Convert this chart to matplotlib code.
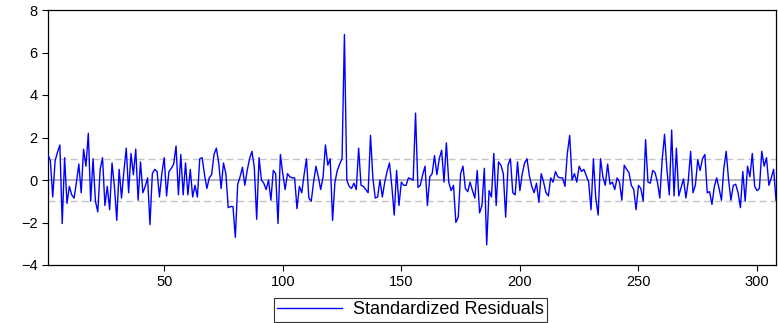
import numpy as np
import matplotlib
matplotlib.use("Agg")
import matplotlib.pyplot as plt

plt.rcParams['font.family'] = ['Liberation Sans', 'DejaVu Sans']

# standardized residuals, obs 1..308
std_resid = [
    1.2, 0.9, -0.8, 0.9, 1.3, 1.65, -2.05, 1.05, -1.1, -0.3,
    -0.7, -0.85, -0.1, 0.75, -0.6, 1.45, 0.65, 2.2, -1.0, 1.0,
    -1.0, -1.5, 0.5, 1.05, -1.2, -0.3, -1.4, 0.8, -0.3, -1.9,
    0.5, -0.85, 0.4, 1.5, -0.6, 1.25, 0.25, 1.45, -0.95, 0.85,
    -0.6, -0.3, 0.1, -2.1, 0.3, 0.5, 0.4, -0.8, 0.3, 1.05,
    -0.75, 0.4, 0.55, 0.75, 1.6, -0.7, 1.2, -0.7, 0.8, -0.7,
    0.5, -0.8, -0.25, -0.8, 1.0, 1.05, 0.25, -0.4, 0.1, 0.25,
    1.2, 1.5, 0.8, -0.4, 0.8, 0.3, -1.3, -1.25, -1.25, -2.7,
    -0.2, 0.15, 0.6, -0.25, 0.45, 1.0, 1.35, 0.6, -1.85, 1.05,
    0.0, -0.15, -0.45, 0.0, -0.95, 0.45, 0.3, -2.05, 1.2, 0.3,
    -0.45, 0.3, 0.15, 0.1, 0.1, -1.35, -0.3, -0.6, 0.25, 1.0,
    -0.85, -1.0, -0.1, 0.65, 0.15, -0.45, 0.15, 1.65, 0.7, 1.0,
    -1.9, -0.1, 0.45, 0.75, 1.0, 6.85, 0.0, -0.3, -0.4, -0.15,
    -0.45, 1.5, -0.25, -0.3, -0.45, -0.6, 2.1, 0.1, -0.85, -0.8,
    0.0, -0.8, -0.1, 0.4, 0.8, -0.3, -1.65, 0.45, -1.2, -0.1,
    -0.25, -0.25, 0.1, 0.05, 0.0, 3.15, -0.35, -0.25, 0.25, 0.65,
    -1.2, 0.15, 0.3, 1.15, 0.25, 1.0, 1.4, -0.1, 1.75, -0.1,
    -0.5, -0.25, -2.0, -1.75, 0.3, 0.65, -0.4, -0.55, -0.1, -0.5,
    -0.85, 0.45, -1.55, -1.2, 0.55, -3.05, -0.5, -0.8, 1.25, -1.2,
    0.85, 0.7, 0.3, -1.75, 0.7, 1.0, -0.6, -0.7, 0.85, -0.5,
    0.3, 0.8, 1.0, 0.2, -0.3, -0.6, -0.15, -1.05, 0.3, -0.1,
    -0.6, -0.75, 0.1, -0.1, 0.4, 0.15, 0.1, 0.1, -0.3, 1.25,
    2.1, 0.0, 0.3, -0.1, 0.65, 0.4, 0.5, 0.2, -0.1, -1.4,
    1.0, -0.85, -1.65, 1.0, 0.15, -0.25, 0.75, -0.2, -0.1, -0.45,
    0.1, -0.1, -0.95, 0.7, 0.5, 0.35, -0.25, -0.45, -1.4, -0.25,
    -0.4, -1.0, 1.9, -0.1, -0.15, 0.45, 0.35, -0.1, -0.85, 0.95,
    2.15, 0.5, -0.7, 2.35, -0.75, 1.5, -0.75, -0.35, 0.05, -0.85,
    -0.05, 1.35, -0.6, -0.25, 0.95, 0.45, 1.0, 1.2, -0.6, -0.55,
    -1.15, -0.3, 0.1, -0.4, -0.95, 0.55, 1.35, 0.0, -0.95, -0.25,
    -0.2, -0.6, -1.3, 0.4, -1.0, 0.65, 0.15, 1.25, -0.3, -0.5,
    -0.4, 1.35, 0.65, 1.05, -0.25, 0.1, 0.5, -0.95,
]
x_ticks = [50, 100, 150, 200, 250, 300]
y_ticks = [-4, -2, 0, 2, 4, 6, 8]
band = [-1, 1]

obs = np.arange(1, len(std_resid) + 1)

fig = plt.figure(figsize=(7.78, 3.23), dpi=100)
ax = fig.add_axes([48 / 778, 58 / 323, 728 / 778, 255 / 323])

# reference lines
ax.axhline(0, color='#a8a8a8', lw=1.2, zorder=1)
for b in band:
    ax.axhline(b, color='#c4c4c4', lw=1.0, ls=(0, (5, 3)), zorder=1)

ax.plot(obs, std_resid, color='#0000ff', lw=1.0, label='Standardized Residuals', zorder=3)

ax.set_xlim(1, len(std_resid))
ax.set_ylim(-4, 8)
ax.set_xticks(x_ticks)
ax.set_yticks(y_ticks)
ax.tick_params(direction='out', length=4, width=0.8, labelsize=10.5, colors='black')
for s in ax.spines.values():
    s.set_linewidth(0.9)

leg = fig.legend(loc='center', bbox_to_anchor=(410.5 / 778, 1 - 310 / 323),
                 frameon=True, fancybox=False, edgecolor='black', fontsize=13,
                 handlelength=3.6, borderpad=0.2, handletextpad=0.6,
                 borderaxespad=0)
leg.get_frame().set_linewidth(0.8)

fig.savefig('out.png', dpi=100)
